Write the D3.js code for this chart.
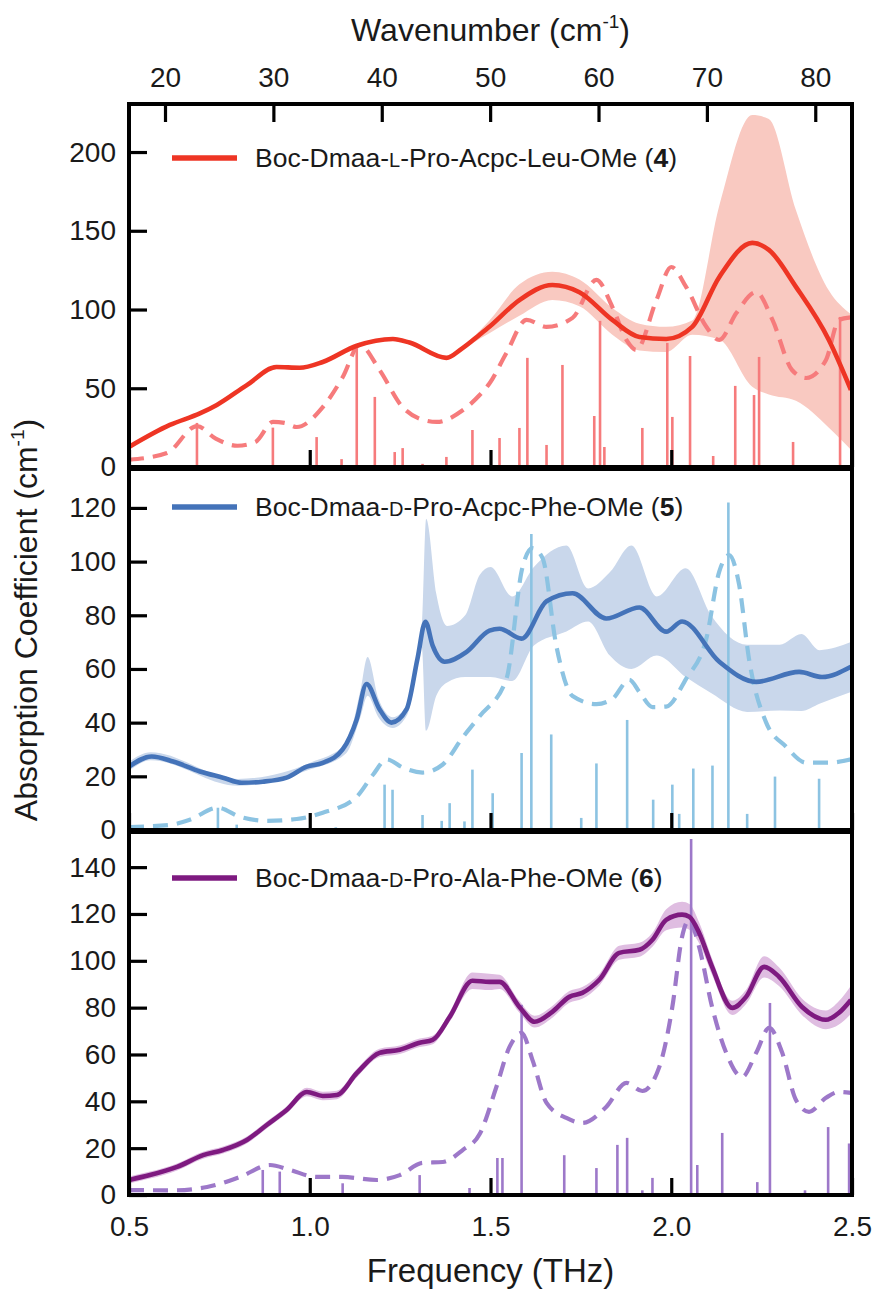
<!DOCTYPE html>
<html>
<head>
<meta charset="utf-8">
<script src="https://cdn.jsdelivr.net/npm/d3@7"></script>
<style>
body{margin:0;background:#fff}
svg text{font-family:"Liberation Sans",Arial,Helvetica,sans-serif;fill:#1a1a1a}
</style>
</head>
<body>
<div id="area"></div>
<script>
// ---- compound 4 (red) ----
const redF    = [0.5,0.613,0.696,0.743,0.826,0.908,0.972,1.036,1.13,1.23,1.276,1.378,1.42,1.47,1.497,1.58,1.671,1.746,1.837,1.912,1.986,2.058,2.133,2.224,2.27,2.345,2.436,2.497]
const redY    = [12.7,26.7,34,39.4,52,63.5,63,66.7,77,81.3,79,69.3,75,84,89,106,115.6,111,93.4,82.6,81.3,89,120.7,142.3,137.9,114.4,80.7,49]
const redBandLo = [11.7,25.7,33,38.4,51,62.5,62,65.7,76,80.2,77.9,68.2,73.8,81.5,85,96,106,102,84,74,73,84,81,51,46,42,25,11]
const redBandHi = [13.7,27.7,35,40.4,53,64.5,64,67.7,78,82.4,80.1,70.4,76.2,86.5,93,116,124,119,101,91,89,93,166,223.5,221,163,112,97]
const redDashF = [0.5,0.605,0.688,0.74,0.8,0.85,0.898,0.93,0.964,1.036,1.091,1.138,1.193,1.257,1.3,1.351,1.423,1.47,1.497,1.544,1.6,1.655,1.727,1.793,1.837,1.876,1.903,1.959,2.0,2.041,2.097,2.133,2.18,2.235,2.28,2.334,2.373,2.428,2.464,2.497]
const redDashY = [4.6,8.9,26,18,13.5,16,28.6,28,25.4,38,57,77.5,61.6,38,31,28.6,36,45.7,53,72.4,93.4,89,94.7,118.8,101.7,80.7,74.3,106,127,114.4,89,80.7,97.8,111,93.4,61.6,56.5,68,93.4,95]
const redStickF = [0.688,0.898,1.019,1.088,1.13,1.18,1.235,1.257,1.312,1.378,1.45,1.525,1.58,1.602,1.655,1.699,1.787,1.803,1.815,1.92,1.989,2.003,2.052,2.116,2.177,2.229,2.243,2.337,2.467]
const redStickY = [28,25,19,5,77,44.5,9.5,12,2,6.4,23.5,18.4,24.8,69.3,14,64.8,32.4,92.8,12.7,24.8,78.8,31.8,70.5,7,51.5,45.7,69.9,15.9,95.3]

// ---- compound 5 (blue) ----
const blueF    = [0.5,0.563,0.622,0.696,0.76,0.812,0.87,0.936,0.992,1.036,1.091,1.13,1.157,1.193,1.226,1.268,1.298,1.32,1.34,1.373,1.434,1.497,1.525,1.586,1.655,1.727,1.82,1.912,1.986,2.03,2.133,2.235,2.354,2.417,2.497]
const blueY    = [23.6,27.4,25.5,21.8,19.5,17.6,18,19.5,23.6,25,30,41.3,54.4,45,40,45,63.8,77.6,68.7,62.7,66.4,74.3,75,71.3,85.2,88.2,78.8,82.9,73.9,77.7,62.7,55.2,58.9,57,60.8]
const blueBandF  = [0.5,0.56,0.8,1.0,1.1,1.14,1.16,1.19,1.23,1.27,1.31,1.322,1.35,1.38,1.43,1.47,1.5,1.56,1.62,1.71,1.77,1.83,1.89,1.96,2.04,2.11,2.21,2.3,2.36,2.41,2.497]
const blueBandLo = [22,26,16.5,22.5,28.5,42,50,42,38,43,68,37,50,55,57,57,57,55.5,68.7,74,77.7,65,60,65,57,51,44,44.5,44.3,47,51.4]
const blueBandHi = [25.5,29,19,25,32,52,64.5,49,42,47,76,116,88,76,80,95,98,87,98,106,90,96,106,87,97.5,80,69,69,73,67,70]
const blueDashF = [0.5,0.613,0.668,0.746,0.807,0.881,0.964,1.036,1.13,1.175,1.213,1.257,1.312,1.368,1.423,1.47,1.544,1.588,1.616,1.644,1.682,1.727,1.793,1.837,1.884,1.912,1.948,1.986,2.041,2.097,2.133,2.16,2.188,2.215,2.262,2.317,2.373,2.436,2.497]
const blueDashY = [1.1,1.9,3.8,8.3,4.9,3.4,4.1,6.4,12.4,20.6,26.3,23.3,21.4,24.4,34.5,42.4,56.3,97.6,105,101.3,68.7,49.9,46.9,48.8,56,51.4,45.8,46,56.3,71.3,96.4,102.4,91.2,63.8,40.2,31.1,25.1,25.1,26.3]
const blueStickF = [0.746,0.798,1.072,1.207,1.229,1.312,1.365,1.387,1.428,1.45,1.506,1.586,1.613,1.668,1.751,1.793,1.878,1.95,2.003,2.022,2.061,2.114,2.158,2.21,2.287,2.409]
const blueStickY = [8.3,2,1,16.9,15,5.6,3.4,10,3.2,22.5,13.7,28.7,110.3,35.6,4.5,24.8,41,11.3,16.9,6,22.9,24,122,6,19.9,19.1]

// ---- compound 6 (purple) ----
const purpF    = [0.5,0.558,0.633,0.705,0.76,0.826,0.881,0.936,0.992,1.036,1.075,1.13,1.193,1.249,1.304,1.34,1.387,1.45,1.497,1.525,1.58,1.622,1.671,1.718,1.754,1.801,1.856,1.912,1.948,1.986,2.03,2.05,2.077,2.113,2.169,2.207,2.257,2.298,2.362,2.428,2.464,2.497]
const purpY    = [6.4,8.5,12,17,19.2,23.5,29.9,36.3,44,42.3,42.7,52,60.7,62,65,66.2,76,91.5,91,91,80.3,74,78.2,84.6,86.3,91.9,103.4,104.7,109,117.5,119.7,118.8,112,97.4,79.9,84.6,97.4,93.2,80.3,74.8,77.8,83.3]
const purpBandW = [1.5,1.5,1.5,1.5,1.5,1.5,1.5,1.5,1.8,1.8,1.8,1.8,1.8,1.8,1.8,1.8,2,3.5,3.5,3,2.5,2.5,2.5,2.5,2.5,2.5,3,3,3,4.5,5.5,5.5,4.5,3.5,3,3,4.5,4,3.5,4,5,6]
const purpDashF = [0.5,0.622,0.716,0.807,0.89,0.945,1.019,1.09,1.185,1.249,1.312,1.368,1.423,1.47,1.516,1.552,1.586,1.616,1.655,1.71,1.754,1.82,1.876,1.92,1.967,2.003,2.03,2.05,2.077,2.113,2.152,2.196,2.235,2.271,2.307,2.345,2.381,2.428,2.464,2.497]
const purpDashY = [2.1,2,3.4,7.7,12.8,10.7,7.7,7.7,6.4,8.5,13.7,14.1,19.2,26,46,63,69.2,57.7,39.3,32.9,30.8,37.6,47.9,44.4,54.7,80.3,110.3,117.5,106,80.3,60.7,50.4,60.7,71.4,60.7,40.6,35.5,41.5,44,43.6]
const purpStickF = [0.87,0.917,1.091,1.304,1.442,1.519,1.533,1.586,1.704,1.793,1.851,1.878,1.92,1.948,2.055,2.072,2.141,2.238,2.273,2.37,2.434,2.492]
const purpStickY = [10.7,10,5,8.5,3,15.8,15.8,81.2,17,11.5,21.4,24.4,2,7.3,152,12.8,26.5,5.5,82,2,29,22]

// ---- axes ----
const freqTicks = [0.5,1.0,1.5,2.0,2.5]
const waveTicks = [20,30,40,50,60,70,80]
const labels = ['L','D','D']
const peptides = [['Boc-Dmaa-','-Pro-Acpc-Leu-OMe (','4'],['Boc-Dmaa-','-Pro-Acpc-Phe-OMe (','5'],['Boc-Dmaa-','-Pro-Ala-Phe-OMe (','6']]
const yTicks = [[0,50,100,150,200],[0,20,40,60,80,100,120],[0,20,40,60,80,100,120,140]]
const yMax = [230.5,134.5,155]

const THZ_TO_CM = 33.356
const margin = {left:129, right:852}
const W = 875, H = 1292

const panels = [
    {top:104, bottom:467, legendY:158, main:'#ee3524', light:'#f67b7c', band:'#f9c9c1',
     line:[redF,redY], dash:[redDashF,redDashY], bandD:[redF,redBandLo,redBandHi], stick:[redStickF,redStickY]},
    {top:469, bottom:830, legendY:507, main:'#4473b9', light:'#8cc3e2', band:'#c9d7eb',
     line:[blueF,blueY], dash:[blueDashF,blueDashY], bandD:[blueBandF,blueBandLo,blueBandHi], stick:[blueStickF,blueStickY]},
    {top:832, bottom:1195, legendY:878, main:'#7e1a80', light:'#9d78c9', band:'#dfbde1',
     line:[purpF,purpY], dash:[purpDashF,purpDashY],
     bandD:[purpF, purpY.map((v,k) => v - purpBandW[k]), purpY.map((v,k) => v + purpBandW[k])],
     stick:[purpStickF,purpStickY]}
]

const svg = d3.select('#area').append('svg')
    .attr('width', W)
    .attr('height', H)

const xScale = d3.scaleLinear()
    .domain([0.5, 2.5])
    .range([margin.left, margin.right])

const zip = (xs, ys) => xs.map((x, i) => ({x:x, y:ys[i]}))

panels.forEach(function(p, i){
    const yScale = d3.scaleLinear()
        .domain([0, yMax[i]])
        .range([p.bottom, p.top])

    const clipId = 'clip' + i
    svg.append('clipPath').attr('id', clipId)
        .append('rect')
        .attr('x', margin.left).attr('y', p.top)
        .attr('width', margin.right - margin.left).attr('height', p.bottom - p.top)

    const g = svg.append('g').attr('clip-path', `url(#${clipId})`)

    //Band
    const bandData = p.bandD[0].map((f, k) => ({x:f, lo:p.bandD[1][k], hi:p.bandD[2][k]}))
    const area = d3.area()
        .x(d => xScale(d.x))
        .y0(d => yScale(d.lo))
        .y1(d => yScale(d.hi))
        .curve(d3.curveMonotoneX)
    g.append('path')
        .datum(bandData)
        .attr('d', area)
        .attr('fill', p.band)

    //Sticks
    g.selectAll('line.stick')
        .data(zip(p.stick[0], p.stick[1]))
        .enter()
        .append('line')
        .attr('class', 'stick')
        .attr('x1', d => xScale(d.x))
        .attr('x2', d => xScale(d.x))
        .attr('y1', yScale(0))
        .attr('y2', d => yScale(d.y))
        .attr('stroke', p.light)
        .attr('stroke-width', 2.6)

    const line = d3.line()
        .x(d => xScale(d.x))
        .y(d => yScale(d.y))
        .curve(d3.curveMonotoneX)

    //Dashed (calculated) spectrum
    g.append('path')
        .datum(zip(p.dash[0], p.dash[1]))
        .attr('d', line)
        .attr('fill', 'none')
        .attr('stroke', p.light)
        .attr('stroke-width', 4.2)
        .attr('stroke-dasharray', '15,9')

    //Measured spectrum
    g.append('path')
        .datum(zip(p.line[0], p.line[1]))
        .attr('d', line)
        .attr('fill', 'none')
        .attr('stroke', p.main)
        .attr('stroke-width', 4.6)
        .attr('stroke-linejoin', 'round')

    //Left axis
    const yAxis = svg.append('g')
        .attr('transform', `translate(${margin.left},0)`)
        .call(d3.axisLeft(yScale).tickValues(yTicks[i]).tickSize(-18).tickPadding(13))
    yAxis.select('.domain').remove()
    yAxis.selectAll('line').attr('stroke', '#000').attr('stroke-width', 3.2)
    yAxis.selectAll('text').attr('font-size', 28).attr('fill', '#1a1a1a')
        .style('font-family', '"Liberation Sans",Arial,sans-serif')

    //Bottom ticks of the panel
    const xAxis = svg.append('g')
        .attr('transform', `translate(0,${p.bottom})`)
        .call(d3.axisBottom(xScale).tickValues(freqTicks).tickSize(-17).tickPadding(21)
            .tickFormat(i == 2 ? d3.format('.1f') : ''))
    xAxis.select('.domain').remove()
    xAxis.selectAll('line').attr('stroke', '#000').attr('stroke-width', 3.2)
    xAxis.selectAll('text').attr('font-size', 28).attr('fill', '#1a1a1a')
        .style('font-family', '"Liberation Sans",Arial,sans-serif')

    //Frame
    svg.append('rect')
        .attr('x', margin.left).attr('y', p.top)
        .attr('width', margin.right - margin.left).attr('height', p.bottom - p.top)
        .attr('fill', 'none')
        .attr('stroke', '#000')
        .attr('stroke-width', 4)

    //Legend
    svg.append('line')
        .attr('x1', 172).attr('x2', 237)
        .attr('y1', p.legendY).attr('y2', p.legendY)
        .attr('stroke', p.main)
        .attr('stroke-width', 5.5)
    const lt = svg.append('text')
        .attr('x', 255)
        .attr('y', p.legendY + 9)
        .attr('font-size', 26.5)
    lt.append('tspan').text(peptides[i][0])
    lt.append('tspan').attr('font-size', 20).text(labels[i])
    lt.append('tspan').text(peptides[i][1])
    lt.append('tspan').attr('font-weight', 'bold').text(peptides[i][2])
    lt.append('tspan').text(')')
})

//Top axis (wavenumber)
const waveScale = d3.scaleLinear()
    .domain([0.5 * THZ_TO_CM, 2.5 * THZ_TO_CM])
    .range([margin.left, margin.right])
const topAxis = svg.append('g')
    .attr('transform', `translate(0,${panels[0].top})`)
    .call(d3.axisTop(waveScale).tickValues(waveTicks).tickSize(-18).tickPadding(17))
topAxis.select('.domain').remove()
topAxis.selectAll('line').attr('stroke', '#000').attr('stroke-width', 3.2)
topAxis.selectAll('text').attr('font-size', 28).attr('fill', '#1a1a1a')
    .style('font-family', '"Liberation Sans",Arial,sans-serif')

//Top Title
const tt = svg.append('text')
    .attr('x', (margin.left + margin.right) / 2)
    .attr('y', 41)
    .attr('text-anchor', 'middle')
    .attr('font-size', 32)
tt.append('tspan').text('Wavenumber (cm')
tt.append('tspan').attr('font-size', 19).attr('dy', -13).text('-1')
tt.append('tspan').attr('dy', 13).text(')')

//x Axis Title
svg.append('text')
    .attr('x', (margin.left + margin.right) / 2)
    .attr('y', 1282)
    .attr('text-anchor', 'middle')
    .attr('font-size', 33)
    .text('Frequency (THz)')

//y Axis Title
const yt = svg.append('text')
    .attr('transform', 'translate(37,620) rotate(-90)')
    .attr('text-anchor', 'middle')
    .attr('font-size', 32)
yt.append('tspan').text('Absorption Coefficient (cm')
yt.append('tspan').attr('font-size', 19).attr('dy', -13).text('-1')
yt.append('tspan').attr('dy', 13).text(')')
</script>
</body>
</html>
